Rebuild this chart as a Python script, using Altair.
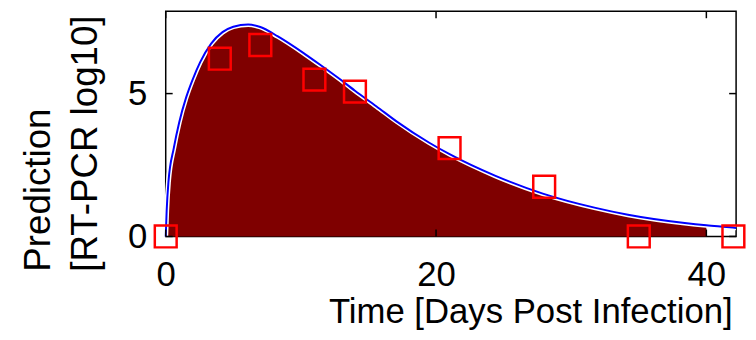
import altair as alt
import pandas as pd

# Observed data (red squares)
obs_days = [0, 4, 7, 11, 14, 21, 28, 35, 42]
obs_vals = [0, 6.22, 6.70, 5.49, 5.07, 3.09, 1.74, 0, 0]

# Model prediction curve
curve_days = [0, 0.07, 0.2, 0.6, 1.0, 1.5, 2.0, 2.55, 3.36, 4.2, 5.0, 6.1, 7.0,
              8.3, 10.25, 11.45, 12.7, 14.0, 15.6, 17.1, 19.5, 21.0, 24.4, 27.9,
              31.8, 34.2, 38.4, 40.0, 41.5, 42.2]
curve_vals = [0, 0.9, 1.9, 3.1, 4.0, 4.85, 5.5, 6.1, 6.75, 7.15, 7.34, 7.42, 7.33,
              7.0, 6.4, 6.0, 5.57, 5.1, 4.55, 4.02, 3.28, 2.88, 2.12, 1.5,
              1.0, 0.76, 0.47, 0.39, 0.33, 0.3]

x_ticks = [0, 20, 40]
y_ticks = [0, 5]

x_domain = [0, 42.2]
y_domain = [0, 7.88]

FONT = "Liberation Sans"

curve = pd.DataFrame({"day": curve_days, "val": curve_vals})
fill = curve[curve["day"] <= 40]
obs = pd.DataFrame({"day": obs_days, "val": obs_vals})
xt = pd.DataFrame({"t": x_ticks})
yt = pd.DataFrame({"t": y_ticks})

xs = alt.Scale(domain=x_domain, nice=False, zero=False)
ys = alt.Scale(domain=y_domain, nice=False, zero=False)

x_axis = alt.Axis(values=x_ticks, ticks=False, domain=False, grid=False,
                  labelFont=FONT, labelFontSize=35, labelColor="black", labelPadding=21,
                  labelFlush=False,
                  title="Time [Days Post Infection]", titleFont=FONT, titleFontSize=35,
                  titleFontWeight="normal", titleColor="black", titleAlign="right",
                  titleBaseline="alphabetic", titleX=571, titleY=87)
y_axis = alt.Axis(values=y_ticks, ticks=False, domain=False, grid=False,
                  labelFont=FONT, labelFontSize=35, labelColor="black", labelPadding=19,
                  labelFlush=False,
                  title=["Prediction", "[RT-PCR log10]"], titleFont=FONT, titleFontSize=37,
                  titleFontWeight="normal", titleColor="black", titleAngle=270,
                  titleAlign="left", titleBaseline="top", titleLineHeight=47,
                  titleX=-146, titleY=262)

area = alt.Chart(fill).mark_area(color="#7f0000", interpolate="monotone").encode(
    x=alt.X("day:Q", scale=xs, axis=x_axis),
    y=alt.Y("val:Q", scale=ys, axis=y_axis),
)
gap = alt.Chart(curve).mark_line(color="white", strokeWidth=5, interpolate="monotone").encode(
    x=alt.X("day:Q", scale=xs), y=alt.Y("val:Q", scale=ys))
line = alt.Chart(curve).mark_line(color="#0000ff", strokeWidth=2, interpolate="monotone").encode(
    x=alt.X("day:Q", scale=xs), y=alt.Y("val:Q", scale=ys))
pts = alt.Chart(obs).mark_point(shape="square", filled=False, size=484, color="#ff0000",
                                strokeWidth=2.5, opacity=1).encode(
    x=alt.X("day:Q", scale=xs), y=alt.Y("val:Q", scale=ys))

tick_style = dict(color="black", strokeWidth=1.5)
xb = alt.Chart(xt).mark_rule(**tick_style).encode(
    x=alt.X("t:Q", scale=xs), y=alt.value(227), y2=alt.value(220))
xtop = alt.Chart(xt).mark_rule(**tick_style).encode(
    x=alt.X("t:Q", scale=xs), y=alt.value(0), y2=alt.value(7))
yl = alt.Chart(yt).mark_rule(**tick_style).encode(
    y=alt.Y("t:Q", scale=ys), x=alt.value(0), x2=alt.value(7))
yr = alt.Chart(yt).mark_rule(**tick_style).encode(
    y=alt.Y("t:Q", scale=ys), x=alt.value(575), x2=alt.value(568))

chart = alt.layer(area, gap, line, xb, xtop, yl, yr, pts).properties(
    width=575, height=227,
    autosize=alt.AutoSizeParams(type="none"),
    padding={"left": 159, "top": 2, "right": 12, "bottom": 95},
    background="white",
).configure_view(stroke="black", strokeWidth=1.5)

chart.save("out.html", embed_options={"renderer": "svg", "actions": False})
